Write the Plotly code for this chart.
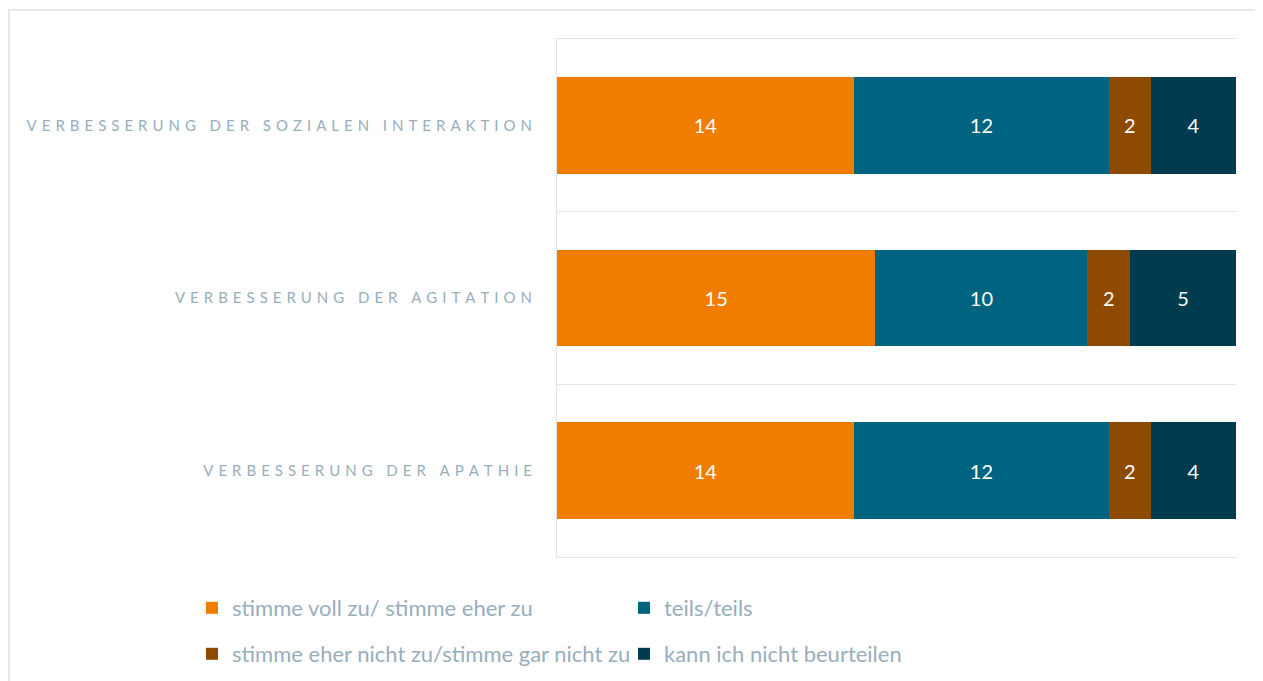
import plotly.graph_objects as go

categories = ["VERBESSERUNG DER SOZIALEN INTERAKTION",
              "VERBESSERUNG DER AGITATION",
              "VERBESSERUNG DER APATHIE"]
series_names = ["stimme voll zu/ stimme eher zu",
                "teils/teils",
                "stimme eher nicht zu/stimme gar nicht zu",
                "kann ich nicht beurteilen"]
values_zu = [14, 15, 14]
values_teils = [12, 10, 12]
values_nicht = [2, 2, 2]
values_kann = [4, 5, 4]
colors = ["#F07D00", "#00637F", "#8D4A00", "#003B4F"]
legend_rows = ["legend", "legend", "legend2", "legend2"]


def spaced(label):
    # letter-spaced look of the category labels
    return "\u2004".join(label.replace(" ", "\u2005"))


fig = go.Figure()
for name, vals, col, lg in zip(series_names,
                               [values_zu, values_teils, values_nicht, values_kann],
                               colors, legend_rows):
    fig.add_trace(go.Bar(
        y=categories, x=vals, name=name, orientation="h", legend=lg,
        marker=dict(color=col, line=dict(width=0)),
        text=vals, textposition="inside", insidetextanchor="middle",
        textangle=0, textfont=dict(color="white", size=20, family="Lato"),
    ))

# page is offset by the 8px body margin
W, H = 1255, 681
ml, mt, pw, ph = 549, 31, 679, 518
mr, mb = W - ml - pw, H - mt - ph
bottom = mt + ph

legend_style = dict(
    orientation="h", x=(184 - ml) / pw, xanchor="left", yanchor="middle",
    entrywidth=387, entrywidthmode="pixels",
    font=dict(size=22, color="#98AEBB", family="Lato"),
    traceorder="normal", itemclick=False, bgcolor="rgba(0,0,0,0)",
)

fig.update_layout(
    width=W, height=H,
    barmode="stack", bargap=0.44,
    margin=dict(l=ml, r=mr, t=mt, b=mb),
    plot_bgcolor="white", paper_bgcolor="white",
    font=dict(family="Lato", color="#98AEBB"),
    showlegend=True,
    legend=dict(legend_style, y=(bottom - 600) / ph),
    legend2=dict(legend_style, y=(bottom - 646) / ph),
    xaxis=dict(range=[0, 32], showgrid=False, zeroline=False,
               showticklabels=False, ticks="", fixedrange=True,
               showline=True, mirror=True, linecolor="#E4E4E4", linewidth=1),
    yaxis=dict(categoryorder="array", categoryarray=categories,
               autorange="reversed", tickson="boundaries",
               showgrid=True, gridcolor="#E4E4E4", gridwidth=1,
               showline=True, linecolor="#E4E4E4", linewidth=1,
               ticks="", ticklen=0,
               tickmode="array", tickvals=categories,
               ticktext=[spaced(c) for c in categories],
               tickfont=dict(size=15, color="#98AEBB", family="Lato"),
               ticklabelstandoff=21),
    shapes=[dict(type="rect", xref="paper", yref="paper",
                 x0=(1 - ml) / pw, x1=(W + 20 - ml) / pw,
                 y0=(bottom - (H + 20)) / ph, y1=(bottom - 2) / ph,
                 line=dict(color="#E3E8EC", width=2), layer="below")],
)

fig.write_html("out.html")
